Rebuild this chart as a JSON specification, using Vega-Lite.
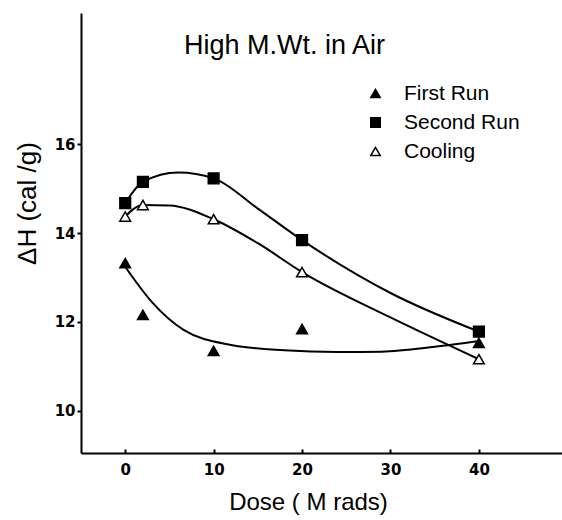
{
  "$schema": "https://vega.github.io/schema/vega-lite/v6.json",
  "width": 481,
  "height": 440,
  "autosize": "none",
  "padding": {"left": 81, "top": 13, "right": 0, "bottom": 67},
  "background": "white",
  "config": {"view": {"stroke": null}, "font": "Liberation Sans"},
  "title": {
    "text": "High  M.Wt. in Air",
    "anchor": "start",
    "frame": "group",
    "orient": "top",
    "offset": -68,
    "dx": 103,
    "baseline": "alphabetic",
    "font": "Liberation Sans",
    "fontSize": 27,
    "fontWeight": "normal",
    "color": "black"
  },
  "datasets": {
    "pts": [
      {"series": "First Run", "dose": 0, "dh": 13.32},
      {"series": "First Run", "dose": 2, "dh": 12.16},
      {"series": "First Run", "dose": 10, "dh": 11.35},
      {"series": "First Run", "dose": 20, "dh": 11.84},
      {"series": "First Run", "dose": 40, "dh": 11.53},
      {"series": "Second Run", "dose": 0, "dh": 14.67},
      {"series": "Second Run", "dose": 2, "dh": 15.15},
      {"series": "Second Run", "dose": 10, "dh": 15.23},
      {"series": "Second Run", "dose": 20, "dh": 13.84},
      {"series": "Second Run", "dose": 40, "dh": 11.78},
      {"series": "Cooling", "dose": 0, "dh": 14.37},
      {"series": "Cooling", "dose": 2, "dh": 14.63},
      {"series": "Cooling", "dose": 10, "dh": 14.31},
      {"series": "Cooling", "dose": 20, "dh": 13.12},
      {"series": "Cooling", "dose": 40, "dh": 11.16}
    ],
    "curves": [
      {"series": "First Run", "dose": 0, "dh": 13.24},
      {"series": "First Run", "dose": 3, "dh": 12.45},
      {"series": "First Run", "dose": 6.6, "dh": 11.82},
      {"series": "First Run", "dose": 12, "dh": 11.48},
      {"series": "First Run", "dose": 18, "dh": 11.36},
      {"series": "First Run", "dose": 24, "dh": 11.32},
      {"series": "First Run", "dose": 29, "dh": 11.33},
      {"series": "First Run", "dose": 35, "dh": 11.44},
      {"series": "First Run", "dose": 40, "dh": 11.57},
      {"series": "Second Run", "dose": 0, "dh": 14.67},
      {"series": "Second Run", "dose": 2, "dh": 15.15},
      {"series": "Second Run", "dose": 6, "dh": 15.36},
      {"series": "Second Run", "dose": 10, "dh": 15.23},
      {"series": "Second Run", "dose": 15, "dh": 14.55},
      {"series": "Second Run", "dose": 20, "dh": 13.84},
      {"series": "Second Run", "dose": 30, "dh": 12.65},
      {"series": "Second Run", "dose": 40, "dh": 11.78},
      {"series": "Cooling", "dose": 0, "dh": 14.37},
      {"series": "Cooling", "dose": 2, "dh": 14.63},
      {"series": "Cooling", "dose": 5, "dh": 14.62},
      {"series": "Cooling", "dose": 10, "dh": 14.31},
      {"series": "Cooling", "dose": 15, "dh": 13.77},
      {"series": "Cooling", "dose": 20, "dh": 13.12},
      {"series": "Cooling", "dose": 30, "dh": 12.1},
      {"series": "Cooling", "dose": 40, "dh": 11.16}
    ]
  },
  "encoding": {
    "x": {
      "field": "dose",
      "type": "quantitative",
      "scale": {"domain": [-5, 49.4], "nice": false, "zero": false},
      "axis": {
        "title": "Dose ( M rads)",
        "values": [0, 10, 20, 30, 40],
        "grid": false,
        "domainColor": "black",
        "domainWidth": 2,
        "tickColor": "black",
        "tickWidth": 2,
        "tickSize": -4,
        "labelPadding": 13,
        "labelFont": "DejaVu Sans",
        "labelFontWeight": "bold",
        "labelFontSize": 15,
        "labelColor": "black",
        "titleFont": "Liberation Sans",
        "titleFontWeight": "normal",
        "titleFontSize": 24,
        "titleColor": "black",
        "titleX": 227,
        "titleY": 49,
        "titleBaseline": "middle"
      }
    },
    "y": {
      "field": "dh",
      "type": "quantitative",
      "scale": {"domain": [9.05, 18.95], "nice": false, "zero": false},
      "axis": {
        "title": "ΔH (cal /g)",
        "values": [10, 12, 14, 16],
        "grid": false,
        "domainColor": "black",
        "domainWidth": 2,
        "tickColor": "black",
        "tickWidth": 2,
        "tickSize": 4,
        "labelPadding": 2,
        "labelFont": "DejaVu Sans",
        "labelFontWeight": "bold",
        "labelFontSize": 15,
        "labelColor": "black",
        "titleFont": "Liberation Sans",
        "titleFontWeight": "normal",
        "titleFontSize": 26,
        "titleColor": "black",
        "titleX": -54,
        "titleY": 190,
        "titleAlign": "center",
        "titleBaseline": "middle"
      }
    }
  },
  "layer": [
    {
      "data": {"name": "curves"},
      "mark": {"type": "line", "interpolate": "monotone", "color": "black", "strokeWidth": 2},
      "encoding": {"detail": {"field": "series"}}
    },
    {
      "data": {"name": "pts"},
      "mark": {"type": "point", "filled": true, "strokeWidth": 1.5, "opacity": 1},
      "encoding": {
        "shape": {
          "field": "series",
          "type": "nominal",
          "scale": {"domain": ["First Run", "Second Run", "Cooling"], "range": ["triangle-up", "square", "triangle-up"]},
          "legend": {
            "title": null,
            "orient": "none",
            "legendX": 284,
            "legendY": 70,
            "labelFont": "Liberation Sans",
            "labelFontSize": 21,
            "labelColor": "black",
            "labelOffset": 18,
            "symbolSize": 90,
            "symbolStrokeWidth": 1.5,
            "rowPadding": 7
          }
        },
        "fill": {
          "field": "series",
          "type": "nominal",
          "scale": {"domain": ["First Run", "Second Run", "Cooling"], "range": ["black", "black", "white"]},
          "legend": {
            "title": null,
            "orient": "none",
            "legendX": 284,
            "legendY": 70,
            "labelFont": "Liberation Sans",
            "labelFontSize": 21,
            "labelColor": "black",
            "labelOffset": 18,
            "symbolSize": 90,
            "symbolStrokeWidth": 1.5,
            "rowPadding": 7
          }
        },
        "stroke": {
          "field": "series",
          "type": "nominal",
          "scale": {"domain": ["First Run", "Second Run", "Cooling"], "range": ["black", "black", "black"]},
          "legend": {
            "title": null,
            "orient": "none",
            "legendX": 284,
            "legendY": 70,
            "labelFont": "Liberation Sans",
            "labelFontSize": 21,
            "labelColor": "black",
            "labelOffset": 18,
            "symbolSize": 90,
            "symbolStrokeWidth": 1.5,
            "rowPadding": 7
          }
        },
        "size": {"value": 115}
      }
    },
    {
      "data": {"values": [{}]},
      "mark": {"type": "rule", "color": "black", "strokeWidth": 2},
      "encoding": {
        "x": {"datum": -5, "type": "quantitative"},
        "x2": {"datum": 49.4},
        "y": {"datum": 18.95, "type": "quantitative"}
      }
    }
  ]
}
